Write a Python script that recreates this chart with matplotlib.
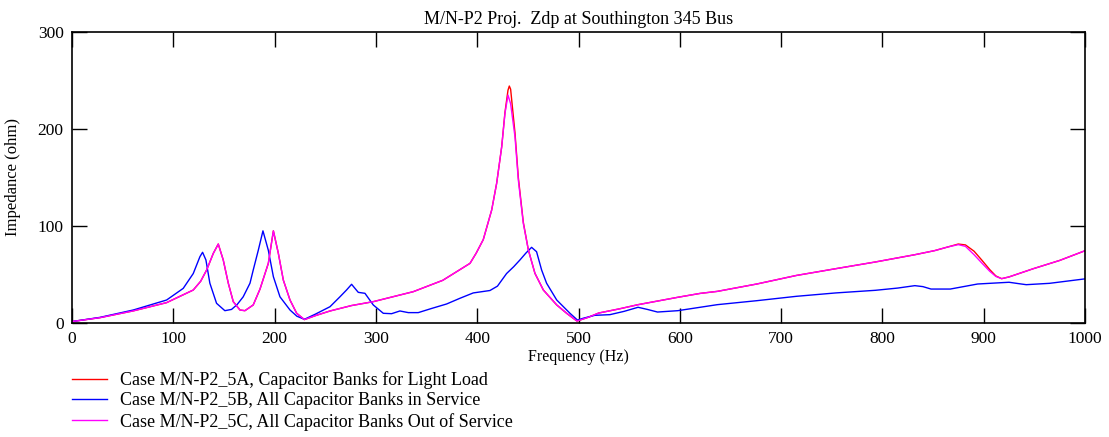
import matplotlib
matplotlib.use('Agg')
import matplotlib.pyplot as plt

plt.rcParams['font.family'] = ['Liberation Serif', 'DejaVu Serif']

# harmonic scan, driving point impedance (ohm) vs frequency (Hz)
freq_b = [0, 27.6, 60.5, 93.4, 109.8, 119.7, 126.3, 128.9, 132.2, 136.1,
          142.7, 150.9, 157.5, 163, 169, 175.7, 178.9, 183.9, 188.5, 193.8,
          198.8, 205.3, 215.2, 222, 229.4, 240, 254.7, 264.5, 271, 276, 282.6,
          289.2, 297.4, 307.3, 315.5, 323.7, 332, 341.8, 355, 369.8, 383,
          396.1, 412.6, 420, 429, 436, 442.2, 448, 453.7, 458.6, 463.6, 468.5,
          478.5, 491.6, 499, 505, 516, 531, 545, 558.8, 568, 578, 598, 637,
          676, 715, 754, 793, 815, 832, 840, 848, 867, 880, 894, 925, 935,
          942, 965, 1000]
imp_b = [1.5, 5.8, 13.4, 23.7, 35.7, 51, 68.4, 72.9, 65, 41,
         20.3, 12.7, 14, 19, 27, 41, 54.6, 75, 95, 75,
         47.7, 27, 13.4, 7, 3.8, 9, 16.8, 27, 34, 39.9, 31.6,
         30.6, 18.6, 10, 9.6, 12.4, 10.7, 10.7, 15, 19.6, 25.5,
         31, 33.5, 38, 51, 58, 65, 72, 78, 73.5, 54.6, 41,
         23.7, 10, 3, 5, 7.9, 8.6, 12, 16.2, 14, 11.3, 12.7, 18.9,
         23, 27.5, 31, 33.7, 36, 38.5, 37.5, 35, 35, 37.5, 40.2, 42, 40.5,
         39.5, 40.9, 45.5]

freq_c = [0, 27.6, 60.5, 93.4, 119.7, 127, 132.9, 139.5, 144.4, 149.3,
          154.3, 159.2, 165.8, 170.7, 178.9, 185.6, 193.8, 198.8, 203.7,
          208.6, 215.2, 221.8, 229.4, 240, 254.7, 276, 297.4, 336.9, 366,
          379.7, 392.9, 399, 406, 414.3, 419.2, 424.2, 427.4, 430.4, 433,
          437.3, 440.6, 445.5, 450.5, 457, 465.3, 478.5, 488.3, 498.5, 510,
          520, 540, 558.8, 598, 620, 637, 676, 715, 754, 793, 832, 851.5, 865,
          874.9, 882, 890.5, 898, 906, 912, 917.7, 925, 949, 975, 1000]
imp_c = [1.5, 5.5, 12.5, 21, 34, 43, 54.6, 71.8, 81.4, 65,
         41, 22, 13.4, 12.7, 18.6, 35, 61.5, 95, 71.8,
         44.3, 23.7, 10, 3.5, 7.5, 12.4, 18, 22, 32.3, 44,
         52.9, 61.5, 72, 86, 116.5, 144, 181.8, 216, 235, 226,
         192, 147.4, 102.8, 75.3, 51.2, 34, 18.6, 10, 2, 6,
         10.3, 14.5, 18.9, 26.5, 30.5, 32.6, 40.2, 49, 56, 62.9, 70.4, 74.6, 78.5,
         80.8, 79, 70.4, 62, 53.3, 48, 45.7, 47.5, 56, 64.5, 74.5]

# light load case: same as out-of-service case except near the two resonances
freq_a = list(freq_c)
imp_a = list(imp_c)
for f, z in [(427.4, 217), (430.4, 240), (431.7, 244.3), (433, 241),
             (437.3, 196), (440.6, 150), (445.5, 104), (874.9, 81.4),
             (882, 80.5), (890.5, 74), (898, 65), (906, 55), (912, 48.5)]:
    if f in freq_a:
        imp_a[freq_a.index(f)] = z
    else:
        i = next(k for k, v in enumerate(freq_a) if v > f)
        freq_a.insert(i, f)
        imp_a.insert(i, z)

labels = ['Case M/N-P2_5A, Capacitor Banks for Light Load',
          'Case M/N-P2_5B, All Capacitor Banks in Service',
          'Case M/N-P2_5C, All Capacitor Banks Out of Service']

fig = plt.figure(figsize=(11.09, 4.37), dpi=100)
ax = fig.add_axes([72/1109, 1-323/437, (1085-72)/1109, (323-32)/437])

l1, = ax.plot(freq_a, imp_a, color='#ff0000', lw=1.0)
l2, = ax.plot(freq_b, imp_b, color='#0000ff', lw=1.0)
l3, = ax.plot(freq_c, imp_c, color='#ff00ff', lw=1.0)

ax.set_xlim(0, 1000)
ax.set_ylim(0, 300)
ax.set_xticks(range(0, 1001, 100))
ax.set_yticks(range(0, 301, 100))
ax.tick_params(direction='in', length=11, width=1, labelsize=12.5,
               top=True, right=True, pad=6)
for s in ax.spines.values():
    s.set_linewidth(1.2)

ax.set_title('M/N-P2 Proj.  Zdp at Southington 345 Bus', fontsize=13, pad=6)
ax.set_xlabel('Frequency (Hz)', fontsize=11.5, labelpad=1)
ax.set_ylabel('Impedance (ohm)', fontsize=12, labelpad=12)

fig.legend([l1, l2, l3], labels, loc='upper left', frameon=False,
           bbox_to_anchor=(72/1109, 1-371/437), fontsize=13,
           handlelength=1.95, handletextpad=0.72, labelspacing=0.19,
           borderpad=0, borderaxespad=0)

fig.savefig('out.png', dpi=100)
